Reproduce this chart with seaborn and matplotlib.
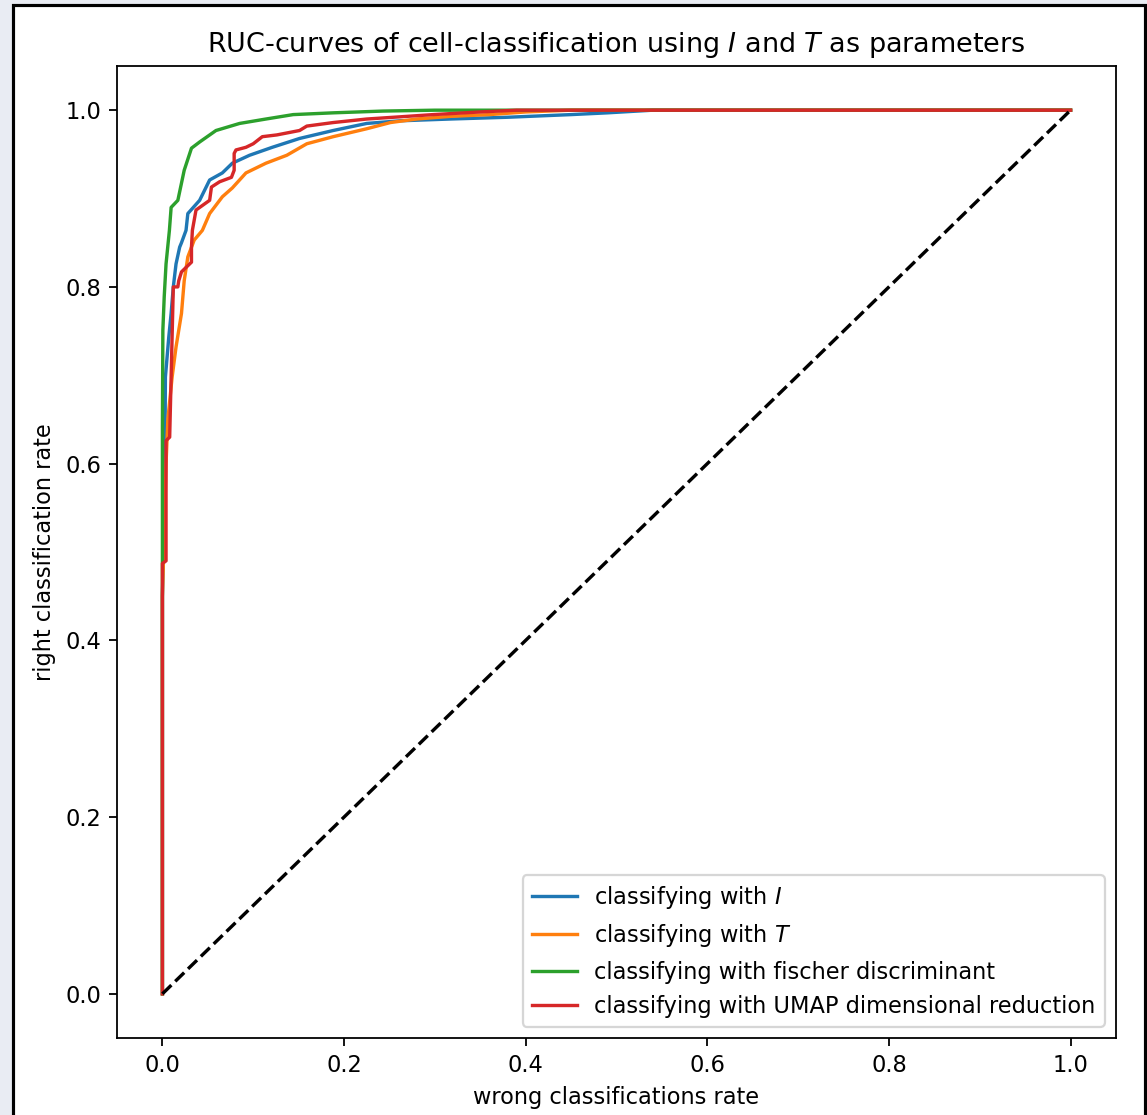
import numpy as np
import pandas as pd
import matplotlib
matplotlib.use("Agg")
import matplotlib.pyplot as plt
import seaborn as sns
from matplotlib.patches import Rectangle

# ROC points (false positive rate, true positive rate) for each classifier
fpr_I = [0, 0, 0.001, 0.002, 0.003, 0.0033, 0.007, 0.0096, 0.012, 0.015,
         0.019, 0.021, 0.026, 0.028, 0.041, 0.052, 0.066, 0.077, 0.096, 0.121,
         0.151, 0.188, 0.225, 0.262, 0.317, 0.38, 0.45, 0.49, 0.54, 1.0]
tpr_I = [0, 0.45, 0.50, 0.58, 0.65, 0.698, 0.743, 0.770, 0.800, 0.826,
         0.845, 0.85, 0.864, 0.883, 0.898, 0.921, 0.929, 0.940, 0.949, 0.958,
         0.968, 0.977, 0.985, 0.988, 0.990, 0.992, 0.995, 0.997, 1.0, 1.0]

fpr_T = [0, 0, 0.002, 0.004, 0.006, 0.0107, 0.015, 0.021, 0.024, 0.028,
         0.035, 0.044, 0.052, 0.066, 0.077, 0.092, 0.114, 0.137, 0.159, 0.188,
         0.225, 0.251, 0.28, 0.317, 0.36, 0.40, 0.45, 1.0]
tpr_T = [0, 0.45, 0.52, 0.60, 0.65, 0.698, 0.732, 0.770, 0.807, 0.834,
         0.853, 0.864, 0.883, 0.902, 0.912, 0.929, 0.940, 0.949, 0.962, 0.970,
         0.979, 0.986, 0.990, 0.993, 0.995, 0.998, 1.0, 1.0]

fpr_fischer = [0, 0, 0.0005, 0.002, 0.004, 0.0077, 0.0096, 0.017, 0.024, 0.032,
               0.041, 0.059, 0.085, 0.114, 0.144, 0.188, 0.243, 0.30, 1.0]
tpr_fischer = [0, 0.64, 0.751, 0.789, 0.826, 0.864, 0.890, 0.898, 0.932, 0.957,
               0.964, 0.977, 0.985, 0.990, 0.995, 0.997, 0.999, 1.0, 1.0]

fpr_umap = [0, 0, 0.004, 0.004, 0.008, 0.0096, 0.012, 0.017, 0.018, 0.021,
            0.032, 0.032, 0.033, 0.037, 0.052, 0.054, 0.063, 0.076, 0.079, 0.079,
            0.081, 0.092, 0.10, 0.11, 0.126, 0.151, 0.159, 0.188, 0.225, 0.262,
            0.298, 0.35, 0.39, 1.0]
tpr_umap = [0, 0.487, 0.49, 0.626, 0.63, 0.698, 0.800, 0.800, 0.807, 0.817,
            0.828, 0.845, 0.864, 0.887, 0.898, 0.913, 0.919, 0.924, 0.932, 0.951,
            0.955, 0.958, 0.962, 0.970, 0.972, 0.977, 0.982, 0.986, 0.990, 0.9925,
            0.995, 0.998, 1.0, 1.0]

labels = [
    "classifying with $I$",
    "classifying with $T$",
    "classifying with fischer discriminant",
    "classifying with UMAP dimensional reduction",
]
chance = [0, 1]

frames = []
for lab, fx, fy in zip(labels,
                       [fpr_I, fpr_T, fpr_fischer, fpr_umap],
                       [tpr_I, tpr_T, tpr_fischer, tpr_umap]):
    frames.append(pd.DataFrame({"fpr": fx, "tpr": fy, "method": lab}))
df = pd.concat(frames, ignore_index=True)

W, H, DPI = 1147, 1115, 162
fig = plt.figure(figsize=(W / DPI, H / DPI), dpi=DPI)
fig.patch.set_facecolor("#e9ecf3")
# white sheet with a black frame
fig.add_artist(Rectangle((12.5 / W, -0.02), (1144.5 - 12.5) / W, 1 - 5.5 / H + 0.02,
                         transform=fig.transFigure, facecolor="white",
                         edgecolor="black", linewidth=1.4, zorder=0))

ax = fig.add_axes([117 / W, (H - 1038) / H, (1116 - 117) / W, (1038 - 66) / H])

palette = ["#1f77b4", "#ff7f0e", "#2ca02c", "#d62728"]
sns.lineplot(data=df, x="fpr", y="tpr", hue="method", hue_order=labels,
             palette=palette, sort=False, estimator=None, ax=ax, linewidth=1.5)
ax.plot(chance, chance, "k--", linewidth=1.5)

leg = ax.get_legend()
handles = leg.legend_handles
texts = [t.get_text() for t in leg.texts]
leg.remove()
ax.legend(handles, texts, loc="lower right")

ax.set_xlim(-0.05, 1.05)
ax.set_ylim(-0.05, 1.05)
ax.set_xticks([0.0, 0.2, 0.4, 0.6, 0.8, 1.0])
ax.set_yticks([0.0, 0.2, 0.4, 0.6, 0.8, 1.0])
ax.set_title("RUC-curves of cell-classification using $I$ and $T$ as parameters")
ax.set_xlabel("wrong classifications rate")
ax.set_ylabel("right classification rate")

fig.savefig("out.png", dpi=DPI, facecolor=fig.get_facecolor())
